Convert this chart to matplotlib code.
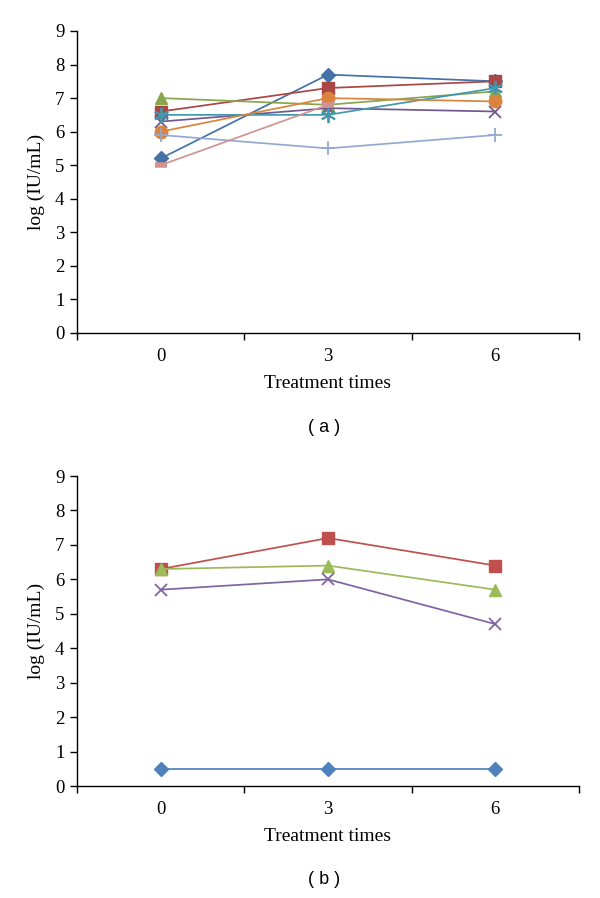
import numpy as np
import matplotlib
matplotlib.use("Agg")
import matplotlib.pyplot as plt

categories = ["0", "3", "6"]
y_ticks = [0, 1, 2, 3, 4, 5, 6, 7, 8, 9]

# Panel (a)
a_diamond = [5.2, 7.7, 7.5]
a_square = [6.6, 7.3, 7.5]
a_triangle = [7.0, 6.8, 7.2]
a_cross = [6.3, 6.7, 6.6]
a_star = [6.5, 6.5, 7.3]
a_circle = [6.0, 7.0, 6.9]
a_plus = [5.9, 5.5, 5.9]
a_dash = [5.0, 6.8, np.nan]

# Panel (b)
b_diamond = [0.5, 0.5, 0.5]
b_square = [6.3, 7.2, 6.4]
b_triangle = [6.3, 6.4, 5.7]
b_cross = [5.7, 6.0, 4.7]

serif = ["Liberation Serif", "DejaVu Serif"]
plt.rcParams["font.family"] = serif

fig = plt.figure(figsize=(6.0, 8.98), dpi=100)

ax_a = fig.add_axes([0.1283, 0.6292, 0.8367, 0.3363])
ax_b = fig.add_axes([0.1283, 0.1247, 0.8367, 0.3452])

x = np.arange(len(categories))

series_a = [
    (a_diamond, "#4572A7", "D", 7.5, dict()),
    (a_square, "#AA4643", "s", 8, dict()),
    (a_triangle, "#89A54E", "^", 9, dict()),
    (a_cross, "#71588F", "x", 9, dict(markeredgewidth=1.3)),
    (a_star, "#4198AF", (6, 2, 0), 11, dict(markeredgewidth=1.3)),
    (a_circle, "#DB843D", "o", 9, dict()),
    (a_plus, "#93A9CF", "+", 10, dict(markeredgewidth=1.3)),
    (a_dash, "#D19392", "_", 8, dict(markeredgewidth=4)),
]
for vals, col, mk, ms, kw in series_a:
    ax_a.plot(x, vals, color=col, marker=mk, markersize=ms, linewidth=1.25,
              markerfacecolor=col, markeredgecolor=col, clip_on=False, **kw)

series_b = [
    (b_diamond, "#4F81BD", "D", 7.5, dict()),
    (b_square, "#C0504D", "s", 8, dict()),
    (b_triangle, "#9BBB59", "^", 9, dict()),
    (b_cross, "#8064A2", "x", 9, dict(markeredgewidth=1.3)),
]
for vals, col, mk, ms, kw in series_b:
    ax_b.plot(x, vals, color=col, marker=mk, markersize=ms, linewidth=1.25,
              markerfacecolor=col, markeredgecolor=col, clip_on=False, **kw)

for ax, lab, ly in [(ax_a, "( a )", 428), (ax_b, "( b )", 880)]:
    ax.set_xlim(-0.5, len(categories) - 0.5)
    ax.set_ylim(0, 9)
    ax.set_yticks(y_ticks)
    ax.set_yticklabels([str(v) for v in y_ticks], fontsize=13.5)
    ax.set_xticks(np.arange(len(categories) + 1) - 0.5)
    ax.set_xticklabels([""] * (len(categories) + 1))
    ax.set_xticks(x, minor=True)
    ax.set_xticklabels(categories, minor=True, fontsize=13.5)
    ax.tick_params(axis="x", which="major", direction="out", length=5, width=1)
    ax.tick_params(axis="x", which="minor", length=0, pad=11)
    ax.tick_params(axis="y", direction="out", length=5, width=1, pad=4)
    for s in ["top", "right"]:
        ax.spines[s].set_visible(False)
    for s in ["left", "bottom"]:
        ax.spines[s].set_linewidth(1.0)
    ax.set_xlabel("Treatment times", fontsize=14, labelpad=7)
    ax.set_ylabel("log (IU/mL)", fontsize=14, labelpad=7)
    fig.text(0.54, 1 - ly / 898, lab, ha="center", va="center",
             fontsize=13, family=["Liberation Sans", "DejaVu Sans"])

fig.savefig("out.png", dpi=100)
